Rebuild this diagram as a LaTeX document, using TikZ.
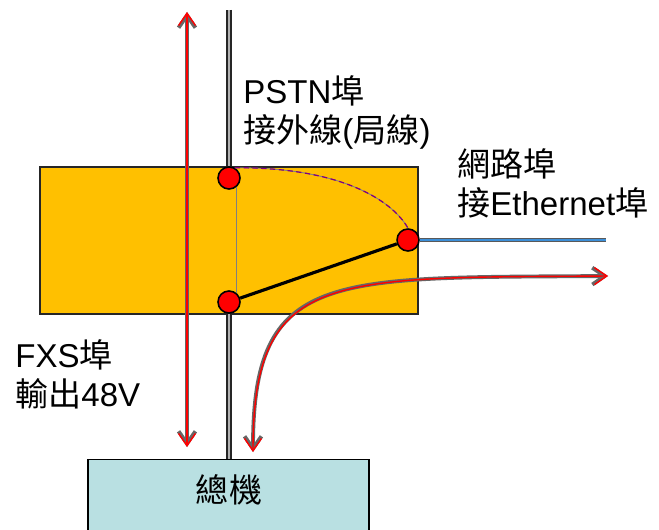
\documentclass[tikz,border=0pt]{standalone}
\usepackage{fontspec}
\setmainfont{Liberation Sans}
\newfontfamily\cjk{Noto Sans CJK TC}
\usetikzlibrary{arrows.meta}
\definecolor{gwfill}{HTML}{FFC000}
\definecolor{pbxfill}{HTML}{B9E0E2}
\definecolor{lanblue}{HTML}{3C8FD8}
\begin{document}
\begin{tikzpicture}[x=0.02cm,y=-0.02cm,
		gwbox/.style={draw=black!85,line width=1.2pt,fill=gwfill,minimum width=7.56cm,minimum height=2.94cm,inner sep=0pt},
		pbxbox/.style={draw=black,line width=0.8pt,fill=pbxfill,minimum width=5.62cm,minimum height=2cm,inner sep=0pt,anchor=north},
		port/.style={draw=black,line width=0.9pt,fill=red,circle,minimum size=0.44cm,inner sep=0pt},
		wire/.style={draw=black!85,line width=0.8pt,double=gray!60,double distance=1.3pt},
		signal/.style={draw=black!60,line width=2.2pt,{Straight Barb[length=7pt,width=9.6pt]}-{Straight Barb[length=7pt,width=9.6pt]},
				postaction={draw=red,line width=0.8pt}},
		lbl/.style={font=\fontsize{18.8}{22.2}\selectfont,align=left,inner sep=0pt}]
	\useasboundingbox[fill=white] (0,0) rectangle (659,530);
	\node[gwbox] (gw) at (229,240.5) {};
	\node[pbxbox] (pbx) at (228.5,459) {};
	\node[lbl] (pbxname) at (229,490) {\cjk 總機};
	\node[port] (pstn) at (229,178) {};
	\node[port] (fxs) at (229,302) {};
	\node[port] (lan) at (408,240) {};
	\coordinate (linetop) at (229,10);
	\coordinate (lanend) at (606,240);
	\coordinate (uptip) at (187,12);
	\coordinate (downtip) at (187,447);
	\coordinate (outtip) at (608,276);
	\coordinate (intip) at (253,452);
	\draw[wire] (linetop) -- (pstn);
	\draw[wire] (fxs) -- (fxs |- pbx.north);
	\draw[gray,line width=0.9pt] (pstn.-50) -- (fxs.50);
	\draw[black,line width=1.8pt] (fxs) -- (lan);
	\draw[gray,line width=0.5pt,postaction={draw=violet,dash pattern=on 3pt off 2pt,line width=0.7pt}]
		(pstn.60) .. controls (340,167) and (392,200) .. (lan.north);
	\draw[black!65,line width=2pt,postaction={draw=lanblue,line width=1pt}] (lan.east) -- (lanend);
	\draw[signal] (uptip) -- (downtip);
	\draw[signal] (outtip) .. controls (330,278) and (253,270) .. (intip);
	\node[lbl,anchor=west] (pstnlbl) at (243,112) {PSTN{\cjk 埠}\\{\cjk 接外線}({\cjk 局線})};
	\node[lbl,anchor=west] (lanlbl) at (457,183) {{\cjk 網路埠}\\{\cjk 接}Ethernet{\cjk 埠}};
	\node[lbl,anchor=west] (fxslbl) at (15,374) {FXS{\cjk 埠}\\{\cjk 輸出}48V};
\end{tikzpicture}
\end{document}
